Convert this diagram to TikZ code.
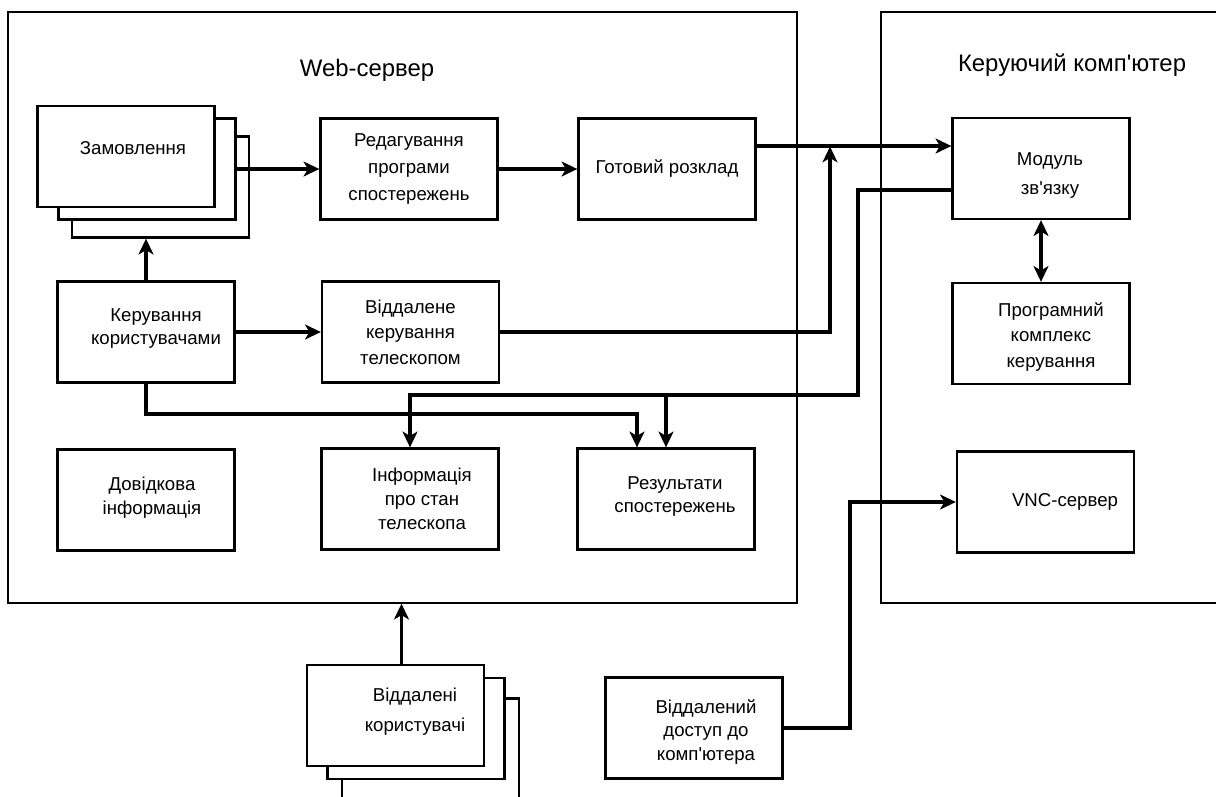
\documentclass[tikz,border=0pt]{standalone}
\usepackage{fontspec}
\setmainfont{Liberation Sans}[Ligatures=TeXOff]
\usetikzlibrary{arrows.meta}

\begin{document}
\begin{tikzpicture}[
  frame/.style={draw, line width=0.75pt, minimum height=11.82cm, inner sep=0pt},
  box/.style={draw, fill=white, line width=1.3pt, minimum width=3.54cm, minimum height=2.02cm, inner sep=0pt, align=center},
  title/.style={font=\fontsize{13.6}{16}\selectfont},
  every label/.style={align=center},
  conn/.style={line width=2.2pt},
  >={Stealth[length=9pt,width=8.5pt,inset=2.5pt]},
  font=\fontsize{10.6}{13.6}\selectfont]
\useasboundingbox (0,0) rectangle (24.32,-15.92);

\node[frame, minimum width=15.78cm] (web) at (8.05,-6.15) {};
\node[frame, minimum width=7.4cm] (ker) at (21.32,-6.15) {};
\node[title] (webt) at (7.34,-1.4) {Web-сервер};
\node[title] (kert) at (21.44,-1.3) {Керуючий комп'ютер};

\node[box] (zam3) at (3.21,-3.74) {};
\node[box] (zam2) at (2.94,-3.38) {};
\node[box, label={[xshift=0.14cm,yshift=0.16cm]center:Замовлення}] (zam1) at (2.52,-3.13) {};
\node[box] (red) at (8.18,-3.38) {Редагування\\[2pt]програми\\[2pt]спостережень};
\node[box] (got) at (13.34,-3.38) {Готовий розклад};
\node[box, label={[xshift=0.18cm,yshift=-0.14cm]center:{Модуль\\[2.8pt]зв'язку}}] (mod) at (20.82,-3.37) {};
\node[box, label={[xshift=0.2cm,yshift=-0.07cm]center:{Програмний\\[1.1pt]комплекс\\[1.1pt]керування}}] (prg) at (20.82,-6.67) {};
\node[box, label={[xshift=0.2cm,yshift=0.07cm]center:{Керування\\користувачами}}] (kor) at (2.92,-6.64) {};
\node[box] (vid) at (8.21,-6.64) {Віддалене\\[1pt]керування\\[1pt]телескопом};
\node[box, label={[xshift=0.12cm,yshift=0.05cm]center:{Довідкова\\інформація}}] (dov) at (2.92,-10.0) {};
\node[box, label={[xshift=0.24cm]center:{Інформація\\про стан\\телескопа}}] (inf) at (8.2,-9.98) {};
\node[box, label={[xshift=0.18cm,yshift=0.05cm]center:{Результати\\спостережень}}] (res) at (13.32,-9.98) {};
\node[box, label={[xshift=0.39cm]center:VNC-сервер}] (vnc) at (20.91,-10.04) {};
\node[box] (vr3) at (8.61,-14.98) {};
\node[box] (vr2) at (8.32,-14.57) {};
\node[box, label={[xshift=0.39cm,yshift=0.07cm]center:{Віддалені\\[3.4pt]користувачі}}] (vr1) at (7.91,-14.31) {};
\node[box, label={[xshift=0.24cm,yshift=-0.08cm]center:{Віддалений\\доступ до\\комп'ютера}}] (vd) at (13.88,-14.56) {};

\coordinate (j) at (16.6,-2.93);
\coordinate (k) at (17.16,-7.9);
\coordinate (m) at (12.74,-8.28);
\coordinate (n) at (17.0,-10.04);
\draw[conn,->] (kor.north) -- (kor.north |- zam3.south);
\draw[conn,->] (zam2.east) -- (red.west);
\draw[conn,->] (red.east) -- (got.west);
\draw[conn,->] ([yshift=0.46cm]got.east) -- ([yshift=0.46cm]got.east -| mod.west);
\draw[conn,->] (kor.east) -- (vid.west);
\draw[conn,->] (vid.east) -| (j);
\draw[conn,->] ([yshift=-0.43cm]mod.west) -| (k) -| (inf.north);
\draw[conn,->] (res.north |- k) -- (res.north);
\draw[conn,->] (kor.south) |- (m) -- (m |- res.north);
\draw[conn,<->] (mod.south) -- (prg.north);
\draw[conn,->] (vd.east) -| (n) -- (vnc.west);
\draw[conn,->] ([xshift=0.12cm]vr1.north) -- ([xshift=0.12cm]vr1.north |- web.south);
\end{tikzpicture}
\end{document}
